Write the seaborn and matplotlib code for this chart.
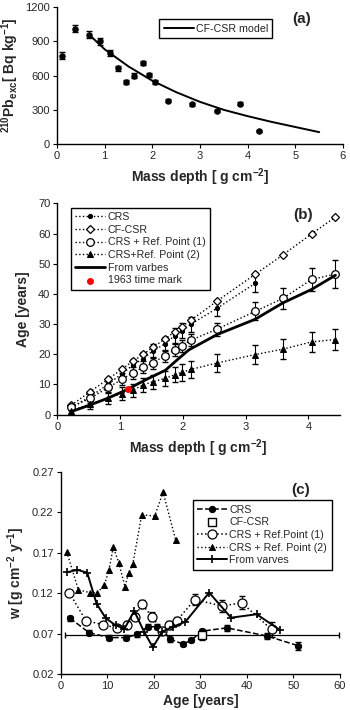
"""
Three-panel chart: 210Pb profile, age-depth models and sedimentation rates.
"""

import numpy as np
import pandas as pd
import seaborn as sns
import matplotlib.pyplot as plt

# ---- panel (a): 210Pb excess vs mass depth
pb_depth = [0.10, 0.37, 0.67, 0.90, 1.12, 1.28, 1.44, 1.62, 1.80, 1.92, 2.05, 2.33, 2.84, 3.36, 3.83, 4.24]
pb_activity = [775, 1010, 960, 900, 800, 665, 545, 600, 710, 605, 545, 380, 350, 290, 355, 115]
pb_err = [30, 30, 30, 28, 25, 22, 20, 20, 20, 20, 20, 15, 12, 12, 12, 10]
model_depth = [0.67, 1.0, 1.5, 2.0, 2.5, 3.0, 3.5, 4.0, 4.5, 5.0, 5.5]
model_activity = [960, 830, 680, 555, 455, 370, 300, 245, 195, 150, 105]

# ---- panel (b): age vs mass depth
md = [0.22, 0.52, 0.81, 1.03, 1.20, 1.37, 1.52, 1.71, 1.87, 1.98, 2.13, 2.54, 3.15, 3.59, 4.05, 4.43]
age_cfcsr = [3.1, 7.6, 11.8, 15.1, 17.7, 20.0, 22.3, 25.0, 27.5, 29.1, 31.3, 37.6, 46.5, 52.9, 59.9, 65.5]
md_crs = md[:13]
age_crs = [2.4, 5.9, 10.1, 13.6, 16.4, 18.6, 21.1, 23.4, 26.2, 27.8, 30.0, 35.2, 43.5]
err_crs = [1.0, 1.5, 2.0, 2.0, 2.2, 2.2, 2.3, 2.3, 2.5, 2.5, 2.5, 2.5, 3.0]
age_ref1 = [2.5, 5.4, 9.0, 11.7, 13.9, 15.7, 17.2, 19.5, 21.5, 22.9, 24.7, 28.3, 34.2, 38.5, 44.8, 46.6]
err_ref1 = [1.0, 1.5, 1.8, 2.0, 2.0, 2.0, 2.0, 2.0, 2.0, 2.0, 2.0, 2.2, 3.0, 3.4, 3.7, 4.7]
age_ref2 = [1.3, 3.5, 5.5, 7.0, 8.1, 9.9, 10.9, 12.0, 13.2, 14.0, 15.0, 17.1, 19.9, 21.7, 24.1, 24.9]
err_ref2 = [1.0, 1.5, 2.0, 2.0, 2.2, 2.3, 2.4, 2.5, 2.5, 2.7, 2.8, 3.0, 3.2, 3.3, 3.2, 3.6]
md_varves = [0.22, 0.52, 0.81, 1.12, 1.40, 1.72, 1.90, 2.09, 2.54, 3.15, 3.59, 4.05, 4.43]
age_varves = [1.0, 3.2, 5.5, 8.4, 11.5, 14.7, 18.0, 21.4, 26.5, 31.6, 37.0, 41.5, 46.2]
mark_1963 = (1.12, 8.5)

# ---- panel (c): sedimentation rate vs age
c_age_crs = [2.0, 6.1, 10.4, 14.0, 16.5, 18.8, 20.6, 22.0, 23.5, 26.3, 28.1, 30.4, 35.7, 44.3, 51.0]
w_crs = [0.089, 0.071, 0.065, 0.065, 0.069, 0.0785, 0.0785, 0.074, 0.063, 0.057, 0.062, 0.073, 0.077, 0.067, 0.055]
w_crs_err = [0.003, 0.003, 0.003, 0.003, 0.003, 0.003, 0.003, 0.003, 0.003, 0.003, 0.003, 0.003, 0.004, 0.004, 0.005]
cfcsr_age, cfcsr_w = 30.4, 0.068
cfcsr_age_lo, cfcsr_age_hi = 1.0, 59.8
cfcsr_w_err = 0.006
c_age_ref1 = [1.85, 5.4, 9.0, 12.0, 14.2, 15.9, 17.5, 19.6, 21.8, 23.3, 24.9, 28.8, 34.7, 38.9, 45.3]
w_ref1 = [0.1205, 0.086, 0.081, 0.077, 0.081, 0.091, 0.106, 0.091, 0.0735, 0.0805, 0.0855, 0.112, 0.104, 0.108, 0.075]
w_ref1_err = [0.003, 0.003, 0.003, 0.003, 0.004, 0.004, 0.005, 0.005, 0.004, 0.005, 0.005, 0.007, 0.008, 0.008, 0.009]
c_age_ref2 = [1.3, 3.8, 6.3, 7.9, 9.4, 10.4, 11.3, 12.5, 13.8, 14.6, 15.5, 17.4, 20.2, 22.0, 24.7]
w_ref2 = [0.171, 0.124, 0.1205, 0.1205, 0.130, 0.149, 0.177, 0.157, 0.128, 0.145, 0.156, 0.2166, 0.2153, 0.2446, 0.1856]
c_age_varves = [1.3, 3.6, 5.7, 7.7, 9.7, 11.8, 13.7, 15.8, 17.9, 19.8, 21.8, 24.2, 26.8, 31.9, 36.6, 42.1, 47.1]
w_varves = [0.1457, 0.1486, 0.1452, 0.107, 0.0888, 0.0802, 0.076, 0.0979, 0.0723, 0.053, 0.0723, 0.0785, 0.0846, 0.1205, 0.0896, 0.0938, 0.0744]

sns.set_style("ticks")
plt.rcParams['font.family'] = ['Liberation Sans', 'DejaVu Sans']
plt.rcParams['mathtext.fontset'] = 'custom'
plt.rcParams['mathtext.rm'] = 'Liberation Sans'
plt.rcParams['mathtext.bf'] = 'Liberation Sans:bold'
plt.rcParams['axes.linewidth'] = 1.0

fig = plt.figure(figsize=(3.5, 7.1), dpi=100)
ax_a = fig.add_axes([0.163, 0.797, 0.817, 0.193])
ax_b = fig.add_axes([0.164, 0.416, 0.807, 0.2975])
ax_c = fig.add_axes([0.1734, 0.0507, 0.798, 0.285])

label_kw = dict(fontsize=10, fontweight='bold')
leg_kw = dict(fontsize=7.7, frameon=True, fancybox=False, edgecolor='black',
              framealpha=1, borderpad=0.4, labelspacing=0.25, handlelength=2.8,
              handletextpad=0.2)

for ax in (ax_a, ax_b, ax_c):
    sns.despine(ax=ax)
    ax.tick_params(direction='out', length=3, width=0.8, labelsize=8, pad=2, color='black')
    for s in ax.spines.values():
        s.set_color('black')

# ---- (a)
df_a = pd.DataFrame({'depth': pb_depth, 'act': pb_activity})
ax_a.errorbar(pb_depth, pb_activity, yerr=pb_err, fmt='none', ecolor='black',
              elinewidth=0.8, capsize=2)
sns.scatterplot(data=df_a, x='depth', y='act', ax=ax_a, color='black', s=22,
                edgecolor='black', linewidth=0, zorder=3)
sns.lineplot(x=model_depth, y=model_activity, ax=ax_a, color='black', lw=1.4,
             label='CF-CSR model')
ax_a.set_xlim(0, 6)
ax_a.set_ylim(0, 1200)
ax_a.set_yticks(np.arange(0, 1201, 300))
ax_a.set_xticks(range(0, 7))
ax_a.set_xlabel(r'Mass depth [ g cm$^{\mathbf{-2}}$]', labelpad=4, **label_kw)
ax_a.set_ylabel(r'$^{\mathbf{210}}$Pb$_{\mathbf{exc}}$[ Bq kg$^{\mathbf{-1}}$]', labelpad=3, **label_kw)
ax_a.legend(loc='upper left', bbox_to_anchor=(0.339, 0.95), **leg_kw)
ax_a.text(0.857, 0.915, '(a)', transform=ax_a.transAxes, ha='center', va='center',
          fontsize=11, fontweight='bold')

# ---- (b)
eb = dict(fmt='none', ecolor='black', elinewidth=0.8, capsize=2)
ax_b.errorbar(md_crs, age_crs, yerr=err_crs, **eb)
ax_b.errorbar(md, age_ref1, yerr=err_ref1, **eb)
ax_b.errorbar(md, age_ref2, yerr=err_ref2, **eb)
sns.lineplot(x=md_crs, y=age_crs, ax=ax_b, color='black', ls=':', lw=1,
             marker='o', ms=3, mfc='black', mec='black', label='CRS')
sns.lineplot(x=md, y=age_cfcsr, ax=ax_b, color='black', ls=':', lw=1,
             marker='D', ms=4.5, mfc='white', mec='black', mew=0.9, label='CF-CSR')
sns.lineplot(x=md, y=age_ref1, ax=ax_b, color='black', ls=':', lw=1,
             marker='o', ms=5.5, mfc='white', mec='black', mew=0.9, label='CRS + Ref. Point (1)')
sns.lineplot(x=md, y=age_ref2, ax=ax_b, color='black', ls=':', lw=1,
             marker='^', ms=4.5, mfc='black', mec='black', label='CRS+Ref. Point (2)')
sns.lineplot(x=md_varves, y=age_varves, ax=ax_b, color='black', lw=2,
             label='From varbes')
sns.scatterplot(x=[mark_1963[0]], y=[mark_1963[1]], ax=ax_b, color='red', s=25,
                linewidth=0, zorder=5, label='1963 time mark')
ax_b.set_xlim(0, 4.5)
ax_b.set_ylim(0, 70)
ax_b.set_xticks(range(0, 5))
ax_b.set_yticks(range(0, 71, 10))
ax_b.set_xlabel(r'Mass depth [ g cm$^{\mathbf{-2}}$]', labelpad=4, **label_kw)
ax_b.set_ylabel('Age [years]', labelpad=6, **label_kw)
ax_b.legend(loc='upper left', bbox_to_anchor=(0.03, 1.005), **leg_kw)
ax_b.text(0.868, 0.945, '(b)', transform=ax_b.transAxes, ha='center', va='center',
          fontsize=11, fontweight='bold')

# ---- (c)
ax_c.errorbar([cfcsr_age], [cfcsr_w],
              xerr=[[cfcsr_age - cfcsr_age_lo], [cfcsr_age_hi - cfcsr_age]],
              yerr=cfcsr_w_err, fmt='none', ecolor='black', elinewidth=0.9, capsize=2)
ax_c.errorbar(c_age_crs, w_crs, yerr=w_crs_err, **eb)
ax_c.errorbar(c_age_ref1, w_ref1, yerr=w_ref1_err, **eb)
sns.lineplot(x=c_age_crs, y=w_crs, ax=ax_c, color='black', ls='--', lw=1.1,
             marker='o', ms=4.5, mfc='black', mec='black', label='CRS')
sns.scatterplot(x=[cfcsr_age], y=[cfcsr_w], ax=ax_c, marker='s', s=40,
                facecolor='white', edgecolor='black', linewidth=1, zorder=4,
                label='CF-CSR')
sns.lineplot(x=c_age_ref1, y=w_ref1, ax=ax_c, color='black', ls=':', lw=1.1,
             marker='o', ms=6.5, mfc='white', mec='black', mew=0.9,
             label='CRS + Ref.Point (1)')
sns.lineplot(x=c_age_ref2, y=w_ref2, ax=ax_c, color='black', ls=':', lw=1,
             marker='^', ms=5, mfc='black', mec='black', label='CRS + Ref. Point (2)')
sns.lineplot(x=c_age_varves, y=w_varves, ax=ax_c, color='black', lw=1.4,
             marker='+', ms=6, mew=1.2, mec='black', label='From varves')
ax_c.set_xlim(0, 60)
ax_c.set_ylim(0.02, 0.27)
ax_c.set_xticks(range(0, 61, 10))
ax_c.set_yticks([0.02, 0.07, 0.12, 0.17, 0.22, 0.27])
ax_c.set_yticklabels([f'{v:.2f}' for v in [0.02, 0.07, 0.12, 0.17, 0.22, 0.27]])
ax_c.set_xlabel('Age [years]', labelpad=2, **label_kw)
ax_c.set_ylabel(r'w [g cm$^{\mathbf{-2}}$ y$^{\mathbf{-1}}$]', labelpad=4, **label_kw)
handles, labels = ax_c.get_legend_handles_labels()
ax_c.legend(handles, labels, loc='upper left', bbox_to_anchor=(0.455, 0.885), **leg_kw)
ax_c.text(0.86, 0.91, '(c)', transform=ax_c.transAxes, ha='center', va='center',
          fontsize=11, fontweight='bold')

fig.savefig('out.png', dpi=100)
